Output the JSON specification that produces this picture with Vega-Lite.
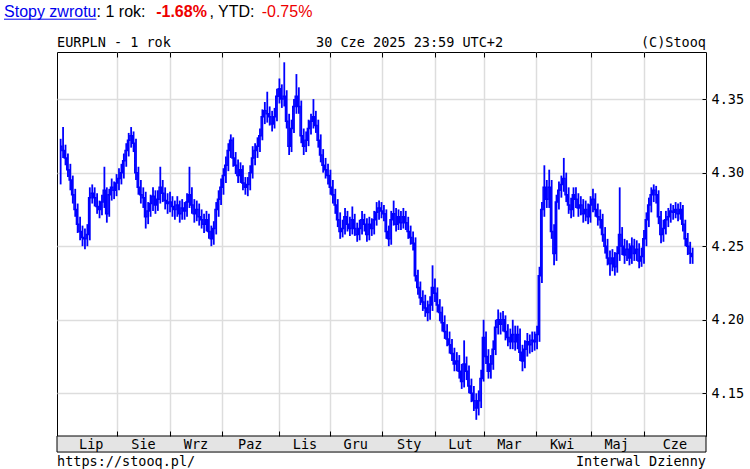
{
  "$schema": "https://vega.github.io/schema/vega-lite/v6.json",
  "width": 649,
  "height": 384,
  "autosize": {"type": "none"},
  "padding": {"left": 57, "top": 52, "right": 44, "bottom": 33},
  "background": "#ffffff",
  "config": {
    "view": {"stroke": "#000000", "strokeWidth": 1},
    "axis": {"labelFont": "DejaVu Sans Mono", "labelFontSize": 13.5, "labelColor": "#000000", "title": null}
  },
  "resolve": {"axis": {"x": "independent", "y": "independent"}},
  "datasets": {
    "eur": [
      {"i":0,"h":4.323,"l":4.292,"c":4.318},{"i":1,"h":4.331,"l":4.31,"c":4.315},{"i":2,"h":4.319,"l":4.305,"c":4.31},{"i":3,"h":4.313,"l":4.297,"c":4.302},{"i":4,"h":4.306,"l":4.288,"c":4.295},
      {"i":5,"h":4.298,"l":4.279,"c":4.285},{"i":6,"h":4.289,"l":4.27,"c":4.275},{"i":7,"h":4.279,"l":4.259,"c":4.265},{"i":8,"h":4.27,"l":4.254,"c":4.26},{"i":9,"h":4.264,"l":4.25,"c":4.256},
      {"i":10,"h":4.262,"l":4.248,"c":4.255},{"i":11,"h":4.265,"l":4.25,"c":4.258},{"i":12,"h":4.29,"l":4.254,"c":4.283},{"i":13,"h":4.292,"l":4.279,"c":4.286},{"i":14,"h":4.29,"l":4.277,"c":4.283},
      {"i":15,"h":4.286,"l":4.272,"c":4.277},{"i":16,"h":4.281,"l":4.269,"c":4.275},{"i":17,"h":4.285,"l":4.271,"c":4.28},{"i":18,"h":4.304,"l":4.276,"c":4.288},{"i":19,"h":4.29,"l":4.266,"c":4.272},
      {"i":20,"h":4.289,"l":4.27,"c":4.285},{"i":21,"h":4.296,"l":4.281,"c":4.29},{"i":22,"h":4.294,"l":4.282,"c":4.288},{"i":23,"h":4.299,"l":4.284,"c":4.293},{"i":24,"h":4.303,"l":4.288,"c":4.296},
      {"i":25,"h":4.306,"l":4.292,"c":4.3},{"i":26,"h":4.313,"l":4.296,"c":4.308},{"i":27,"h":4.32,"l":4.304,"c":4.315},{"i":28,"h":4.327,"l":4.311,"c":4.322},{"i":29,"h":4.331,"l":4.317,"c":4.325},
      {"i":30,"h":4.328,"l":4.314,"c":4.32},{"i":31,"h":4.323,"l":4.295,"c":4.3},{"i":32,"h":4.304,"l":4.285,"c":4.29},{"i":33,"h":4.295,"l":4.279,"c":4.285},{"i":34,"h":4.29,"l":4.276,"c":4.283},
      {"i":35,"h":4.287,"l":4.262,"c":4.27},{"i":36,"h":4.28,"l":4.265,"c":4.274},{"i":37,"h":4.285,"l":4.27,"c":4.279},{"i":38,"h":4.29,"l":4.274,"c":4.284},{"i":39,"h":4.288,"l":4.272,"c":4.278},
      {"i":40,"h":4.288,"l":4.274,"c":4.282},{"i":41,"h":4.304,"l":4.279,"c":4.29},{"i":42,"h":4.295,"l":4.28,"c":4.286},{"i":43,"h":4.29,"l":4.275,"c":4.281},{"i":44,"h":4.286,"l":4.272,"c":4.279},
      {"i":45,"h":4.287,"l":4.273,"c":4.28},{"i":46,"h":4.284,"l":4.27,"c":4.277},{"i":47,"h":4.281,"l":4.268,"c":4.275},{"i":48,"h":4.284,"l":4.27,"c":4.278},{"i":49,"h":4.281,"l":4.266,"c":4.272},
      {"i":50,"h":4.282,"l":4.268,"c":4.276},{"i":51,"h":4.28,"l":4.268,"c":4.274},{"i":52,"h":4.286,"l":4.27,"c":4.28},{"i":53,"h":4.304,"l":4.276,"c":4.285},{"i":54,"h":4.29,"l":4.272,"c":4.278},
      {"i":55,"h":4.282,"l":4.266,"c":4.272},{"i":56,"h":4.281,"l":4.267,"c":4.275},{"i":57,"h":4.279,"l":4.264,"c":4.27},{"i":58,"h":4.275,"l":4.262,"c":4.268},{"i":59,"h":4.272,"l":4.259,"c":4.265},
      {"i":60,"h":4.274,"l":4.26,"c":4.268},{"i":61,"h":4.272,"l":4.255,"c":4.26},{"i":62,"h":4.264,"l":4.25,"c":4.255},{"i":63,"h":4.267,"l":4.251,"c":4.262},{"i":64,"h":4.28,"l":4.258,"c":4.275},
      {"i":65,"h":4.288,"l":4.27,"c":4.282},{"i":66,"h":4.296,"l":4.278,"c":4.29},{"i":67,"h":4.303,"l":4.285,"c":4.298},{"i":68,"h":4.311,"l":4.293,"c":4.305},{"i":69,"h":4.32,"l":4.301,"c":4.315},
      {"i":70,"h":4.326,"l":4.31,"c":4.322},{"i":71,"h":4.324,"l":4.304,"c":4.31},{"i":72,"h":4.314,"l":4.299,"c":4.305},{"i":73,"h":4.309,"l":4.293,"c":4.298},{"i":74,"h":4.307,"l":4.293,"c":4.302},
      {"i":75,"h":4.305,"l":4.288,"c":4.293},{"i":76,"h":4.297,"l":4.285,"c":4.29},{"i":77,"h":4.297,"l":4.284,"c":4.292},{"i":78,"h":4.305,"l":4.288,"c":4.3},{"i":79,"h":4.318,"l":4.296,"c":4.31},
      {"i":80,"h":4.32,"l":4.305,"c":4.315},{"i":81,"h":4.324,"l":4.31,"c":4.318},{"i":82,"h":4.33,"l":4.314,"c":4.325},{"i":83,"h":4.343,"l":4.322,"c":4.338},{"i":84,"h":4.348,"l":4.333,"c":4.342},
      {"i":85,"h":4.355,"l":4.334,"c":4.34},{"i":86,"h":4.345,"l":4.332,"c":4.338},{"i":87,"h":4.342,"l":4.328,"c":4.333},{"i":88,"h":4.344,"l":4.33,"c":4.338},{"i":89,"h":4.357,"l":4.335,"c":4.352},
      {"i":90,"h":4.364,"l":4.347,"c":4.357},{"i":91,"h":4.36,"l":4.344,"c":4.35},{"i":92,"h":4.375,"l":4.345,"c":4.352},{"i":93,"h":4.356,"l":4.33,"c":4.335},{"i":94,"h":4.34,"l":4.312,"c":4.318},
      {"i":95,"h":4.336,"l":4.314,"c":4.33},{"i":96,"h":4.35,"l":4.327,"c":4.345},{"i":97,"h":4.367,"l":4.34,"c":4.352},{"i":98,"h":4.358,"l":4.34,"c":4.345},{"i":99,"h":4.349,"l":4.32,"c":4.325},
      {"i":100,"h":4.33,"l":4.312,"c":4.318},{"i":101,"h":4.328,"l":4.314,"c":4.322},{"i":102,"h":4.336,"l":4.318,"c":4.33},{"i":103,"h":4.34,"l":4.326,"c":4.335},{"i":104,"h":4.35,"l":4.33,"c":4.338},
      {"i":105,"h":4.342,"l":4.327,"c":4.332},{"i":106,"h":4.336,"l":4.317,"c":4.322},{"i":107,"h":4.326,"l":4.307,"c":4.312},{"i":108,"h":4.316,"l":4.3,"c":4.305},{"i":109,"h":4.31,"l":4.296,"c":4.302},
      {"i":110,"h":4.306,"l":4.292,"c":4.298},{"i":111,"h":4.302,"l":4.285,"c":4.29},{"i":112,"h":4.295,"l":4.279,"c":4.285},{"i":113,"h":4.289,"l":4.272,"c":4.278},{"i":114,"h":4.282,"l":4.263,"c":4.268},
      {"i":115,"h":4.273,"l":4.255,"c":4.26},{"i":116,"h":4.268,"l":4.256,"c":4.262},{"i":117,"h":4.276,"l":4.258,"c":4.27},{"i":118,"h":4.274,"l":4.26,"c":4.265},{"i":119,"h":4.27,"l":4.257,"c":4.262},
      {"i":120,"h":4.277,"l":4.258,"c":4.268},{"i":121,"h":4.272,"l":4.257,"c":4.262},{"i":122,"h":4.266,"l":4.253,"c":4.258},{"i":123,"h":4.268,"l":4.254,"c":4.262},{"i":124,"h":4.274,"l":4.258,"c":4.268},
      {"i":125,"h":4.272,"l":4.26,"c":4.265},{"i":126,"h":4.269,"l":4.253,"c":4.258},{"i":127,"h":4.27,"l":4.254,"c":4.265},{"i":128,"h":4.269,"l":4.257,"c":4.262},{"i":129,"h":4.274,"l":4.258,"c":4.268},
      {"i":130,"h":4.28,"l":4.264,"c":4.273},{"i":131,"h":4.281,"l":4.268,"c":4.276},{"i":132,"h":4.28,"l":4.269,"c":4.274},{"i":133,"h":4.278,"l":4.267,"c":4.272},{"i":134,"h":4.275,"l":4.255,"c":4.26},
      {"i":135,"h":4.264,"l":4.25,"c":4.255},{"i":136,"h":4.274,"l":4.251,"c":4.268},{"i":137,"h":4.281,"l":4.264,"c":4.272},{"i":138,"h":4.276,"l":4.26,"c":4.265},{"i":139,"h":4.275,"l":4.261,"c":4.27},
      {"i":140,"h":4.274,"l":4.261,"c":4.266},{"i":141,"h":4.276,"l":4.262,"c":4.27},{"i":142,"h":4.274,"l":4.261,"c":4.266},{"i":143,"h":4.27,"l":4.255,"c":4.26},{"i":144,"h":4.264,"l":4.251,"c":4.256},
      {"i":145,"h":4.26,"l":4.247,"c":4.252},{"i":146,"h":4.256,"l":4.226,"c":4.23},{"i":147,"h":4.234,"l":4.217,"c":4.222},{"i":148,"h":4.226,"l":4.21,"c":4.215},{"i":149,"h":4.22,"l":4.206,"c":4.212},
      {"i":150,"h":4.217,"l":4.202,"c":4.208},{"i":151,"h":4.213,"l":4.199,"c":4.205},{"i":152,"h":4.216,"l":4.2,"c":4.21},{"i":153,"h":4.237,"l":4.206,"c":4.222},{"i":154,"h":4.228,"l":4.212,"c":4.218},
      {"i":155,"h":4.222,"l":4.205,"c":4.21},{"i":156,"h":4.214,"l":4.199,"c":4.205},{"i":157,"h":4.209,"l":4.192,"c":4.198},{"i":158,"h":4.203,"l":4.187,"c":4.192},{"i":159,"h":4.197,"l":4.182,"c":4.187},
      {"i":160,"h":4.192,"l":4.177,"c":4.183},{"i":161,"h":4.187,"l":4.172,"c":4.177},{"i":162,"h":4.181,"l":4.165,"c":4.17},{"i":163,"h":4.178,"l":4.165,"c":4.172},{"i":164,"h":4.176,"l":4.16,"c":4.165},
      {"i":165,"h":4.17,"l":4.153,"c":4.158},{"i":166,"h":4.186,"l":4.154,"c":4.17},{"i":167,"h":4.175,"l":4.159,"c":4.165},{"i":168,"h":4.169,"l":4.15,"c":4.155},{"i":169,"h":4.16,"l":4.144,"c":4.15},
      {"i":170,"h":4.155,"l":4.138,"c":4.145},{"i":171,"h":4.15,"l":4.132,"c":4.14},{"i":172,"h":4.152,"l":4.135,"c":4.145},{"i":173,"h":4.166,"l":4.14,"c":4.16},{"i":174,"h":4.2,"l":4.158,"c":4.188},
      {"i":175,"h":4.192,"l":4.17,"c":4.175},{"i":176,"h":4.18,"l":4.16,"c":4.165},{"i":177,"h":4.176,"l":4.16,"c":4.17},{"i":178,"h":4.186,"l":4.166,"c":4.18},{"i":179,"h":4.2,"l":4.176,"c":4.195},
      {"i":180,"h":4.207,"l":4.19,"c":4.2},{"i":181,"h":4.205,"l":4.19,"c":4.197},{"i":182,"h":4.206,"l":4.192,"c":4.2},{"i":183,"h":4.203,"l":4.186,"c":4.192},{"i":184,"h":4.197,"l":4.182,"c":4.188},
      {"i":185,"h":4.194,"l":4.18,"c":4.185},{"i":186,"h":4.2,"l":4.18,"c":4.19},{"i":187,"h":4.196,"l":4.179,"c":4.185},{"i":188,"h":4.196,"l":4.18,"c":4.19},{"i":189,"h":4.194,"l":4.172,"c":4.178},
      {"i":190,"h":4.183,"l":4.165,"c":4.172},{"i":191,"h":4.186,"l":4.167,"c":4.18},{"i":192,"h":4.191,"l":4.175,"c":4.185},{"i":193,"h":4.19,"l":4.177,"c":4.183},{"i":194,"h":4.192,"l":4.178,"c":4.186},
      {"i":195,"h":4.192,"l":4.179,"c":4.185},{"i":196,"h":4.196,"l":4.18,"c":4.19},{"i":197,"h":4.236,"l":4.185,"c":4.23},{"i":198,"h":4.28,"l":4.225,"c":4.275},{"i":199,"h":4.305,"l":4.27,"c":4.29},
      {"i":200,"h":4.295,"l":4.276,"c":4.282},{"i":201,"h":4.302,"l":4.276,"c":4.29},{"i":202,"h":4.295,"l":4.255,"c":4.26},{"i":203,"h":4.265,"l":4.237,"c":4.245},{"i":204,"h":4.285,"l":4.24,"c":4.28},
      {"i":205,"h":4.294,"l":4.275,"c":4.288},{"i":206,"h":4.298,"l":4.283,"c":4.292},{"i":207,"h":4.31,"l":4.287,"c":4.296},{"i":208,"h":4.3,"l":4.28,"c":4.285},{"i":209,"h":4.29,"l":4.272,"c":4.278},
      {"i":210,"h":4.283,"l":4.269,"c":4.275},{"i":211,"h":4.29,"l":4.27,"c":4.285},{"i":212,"h":4.29,"l":4.276,"c":4.282},{"i":213,"h":4.286,"l":4.27,"c":4.276},{"i":214,"h":4.284,"l":4.271,"c":4.278},
      {"i":215,"h":4.282,"l":4.266,"c":4.272},{"i":216,"h":4.281,"l":4.267,"c":4.275},{"i":217,"h":4.279,"l":4.265,"c":4.27},{"i":218,"h":4.284,"l":4.266,"c":4.278},{"i":219,"h":4.289,"l":4.273,"c":4.282},
      {"i":220,"h":4.286,"l":4.27,"c":4.275},{"i":221,"h":4.279,"l":4.264,"c":4.27},{"i":222,"h":4.275,"l":4.262,"c":4.268},{"i":223,"h":4.272,"l":4.253,"c":4.258},{"i":224,"h":4.263,"l":4.245,"c":4.25},
      {"i":225,"h":4.255,"l":4.237,"c":4.242},{"i":226,"h":4.247,"l":4.23,"c":4.238},{"i":227,"h":4.248,"l":4.233,"c":4.242},{"i":228,"h":4.246,"l":4.23,"c":4.236},{"i":229,"h":4.25,"l":4.232,"c":4.245},
      {"i":230,"h":4.29,"l":4.24,"c":4.258},{"i":231,"h":4.263,"l":4.244,"c":4.25},{"i":232,"h":4.255,"l":4.238,"c":4.244},{"i":233,"h":4.254,"l":4.24,"c":4.248},{"i":234,"h":4.252,"l":4.237,"c":4.242},
      {"i":235,"h":4.256,"l":4.238,"c":4.25},{"i":236,"h":4.255,"l":4.24,"c":4.245},{"i":237,"h":4.254,"l":4.24,"c":4.248},{"i":238,"h":4.252,"l":4.235,"c":4.24},{"i":239,"h":4.249,"l":4.236,"c":4.243},
      {"i":240,"h":4.261,"l":4.238,"c":4.255},{"i":241,"h":4.273,"l":4.25,"c":4.268},{"i":242,"h":4.283,"l":4.263,"c":4.278},{"i":243,"h":4.29,"l":4.273,"c":4.285},{"i":244,"h":4.292,"l":4.28,"c":4.288},
      {"i":245,"h":4.291,"l":4.279,"c":4.285},{"i":246,"h":4.288,"l":4.265,"c":4.27},{"i":247,"h":4.274,"l":4.252,"c":4.258},{"i":248,"h":4.268,"l":4.253,"c":4.262},{"i":249,"h":4.274,"l":4.258,"c":4.268},
      {"i":250,"h":4.276,"l":4.263,"c":4.27},{"i":251,"h":4.279,"l":4.266,"c":4.274},{"i":252,"h":4.278,"l":4.268,"c":4.273},{"i":253,"h":4.28,"l":4.269,"c":4.275},{"i":254,"h":4.279,"l":4.267,"c":4.272},
      {"i":255,"h":4.28,"l":4.268,"c":4.275},{"i":256,"h":4.278,"l":4.26,"c":4.265},{"i":257,"h":4.268,"l":4.25,"c":4.255},{"i":258,"h":4.259,"l":4.244,"c":4.25},{"i":259,"h":4.253,"l":4.238,"c":4.245},
      {"i":260,"h":4.249,"l":4.238,"c":4.243}
    ]
  },
  "layer": [
    {
      "data": {"name": "eur"},
      "mark": {"type": "rule", "color": "#0000ff", "strokeWidth": 1.8},
      "encoding": {
        "x": {"field": "i", "type": "quantitative",
              "scale": {"domain": [-1.5, 265.5], "nice": false, "zero": false},
              "axis": {"orient": "top", "values": [23, 45, 66.2, 89.8, 110.8, 132.1, 154.2, 174, 195.4, 218, 240],
                       "labels": false, "ticks": true, "tickSize": 5, "offset": -5, "tickColor": "#000000", "domain": false,
                       "grid": true, "gridColor": "#dddddd", "gridWidth": 1.5}},
        "y": {"field": "l", "type": "quantitative",
              "scale": {"domain": [4.121, 4.382], "nice": false, "zero": false},
              "axis": {"orient": "right", "values": [4.15, 4.2, 4.25, 4.3, 4.35], "format": ".2f",
                       "domain": false, "ticks": true, "tickSize": 4, "offset": -4, "tickColor": "#000000", "labelPadding": 5,
                       "grid": true, "gridColor": "#dddddd", "gridWidth": 1.5}},
        "y2": {"field": "h"}
      }
    },
    {
      "data": {"name": "eur"},
      "mark": {"type": "line", "color": "#0000ff", "strokeWidth": 1.5, "interpolate": "step"},
      "encoding": {
        "x": {"field": "i", "type": "quantitative",
              "scale": {"domain": [-1.5, 265.5], "nice": false, "zero": false},
              "axis": {"orient": "bottom", "values": [12.4, 33.9, 55.5, 77.8, 100.3, 121.2, 143.2, 164.3, 184.4, 206.1, 228.5, 252.5],
                       "labelExpr": "['Lip','Sie','Wrz','Paz','Lis','Gru','Sty','Lut','Mar','Kwi','Maj','Cze'][indexof([12.4,33.9,55.5,77.8,100.3,121.2,143.2,164.3,184.4,206.1,228.5,252.5], datum.value)]",
                       "labelFlush": false, "labelBaseline": "middle", "labelPadding": 8.5,
                       "ticks": false, "domain": false, "grid": false, "zindex": 2}},
        "y": {"field": "c", "type": "quantitative",
              "scale": {"domain": [4.121, 4.382], "nice": false, "zero": false}, "axis": null}
      }
    },
    {
      "data": {"values": [{}]},
      "mark": {"type": "rect", "fill": "#e4e4e4", "stroke": "#000000", "strokeWidth": 1},
      "encoding": {
        "x": {"datum": -1.5, "type": "quantitative", "scale": {"domain": [-1.5, 265.5], "nice": false, "zero": false},
              "axis": {"orient": "bottom", "values": [23, 45, 66.2, 89.8, 110.8, 132.1, 154.2, 174, 195.4, 218, 240],
                       "labels": false, "ticks": true, "tickSize": 5, "offset": -5, "tickColor": "#000000", "domain": false, "grid": false, "zindex": 1}},
        "x2": {"datum": 265.5},
        "y": {"datum": 4.121, "type": "quantitative", "scale": {"domain": [4.121, 4.382], "nice": false, "zero": false}, "axis": null},
        "y2": {"datum": 4.1101}
      }
    },
    {
      "data": {"values": [{}]},
      "mark": {"type": "text", "text": "Stopy zwrotu", "align": "left", "baseline": "alphabetic", "font": "Liberation Sans", "fontSize": 16, "color": "#0000ee"},
      "encoding": {
        "x": {"datum": -23.3, "type": "quantitative", "scale": {"domain": [-1.5, 265.5], "nice": false, "zero": false}, "axis": null},
        "y": {"datum": 4.4055, "type": "quantitative", "scale": {"domain": [4.121, 4.382], "nice": false, "zero": false}, "axis": null}
      }
    },
    {
      "data": {"values": [{}]},
      "mark": {"type": "rule", "color": "#0000ee", "strokeWidth": 1},
      "encoding": {
        "x": {"datum": -23.3, "type": "quantitative", "scale": {"domain": [-1.5, 265.5], "nice": false, "zero": false}, "axis": null},
        "x2": {"datum": 14.7},
        "y": {"datum": 4.4043, "type": "quantitative", "scale": {"domain": [4.121, 4.382], "nice": false, "zero": false}, "axis": null}
      }
    },
    {
      "data": {"values": [{}]},
      "mark": {"type": "text", "text": ": 1 rok: ", "align": "left", "baseline": "alphabetic", "font": "Liberation Sans", "fontSize": 16, "color": "#000000"},
      "encoding": {
        "x": {"datum": 14.8, "type": "quantitative", "scale": {"domain": [-1.5, 265.5], "nice": false, "zero": false}, "axis": null},
        "y": {"datum": 4.4055, "type": "quantitative", "scale": {"domain": [4.121, 4.382], "nice": false, "zero": false}, "axis": null}
      }
    },
    {
      "data": {"values": [{}]},
      "mark": {"type": "text", "text": "-1.68%", "align": "left", "baseline": "alphabetic", "font": "Liberation Sans", "fontSize": 16, "fontWeight": "bold", "color": "#ee0000"},
      "encoding": {
        "x": {"datum": 39.3, "type": "quantitative", "scale": {"domain": [-1.5, 265.5], "nice": false, "zero": false}, "axis": null},
        "y": {"datum": 4.4055, "type": "quantitative", "scale": {"domain": [4.121, 4.382], "nice": false, "zero": false}, "axis": null}
      }
    },
    {
      "data": {"values": [{}]},
      "mark": {"type": "text", "text": ", YTD: ", "align": "left", "baseline": "alphabetic", "font": "Liberation Sans", "fontSize": 16, "color": "#000000"},
      "encoding": {
        "x": {"datum": 61.2, "type": "quantitative", "scale": {"domain": [-1.5, 265.5], "nice": false, "zero": false}, "axis": null},
        "y": {"datum": 4.4055, "type": "quantitative", "scale": {"domain": [4.121, 4.382], "nice": false, "zero": false}, "axis": null}
      }
    },
    {
      "data": {"values": [{}]},
      "mark": {"type": "text", "text": "-0.75%", "align": "left", "baseline": "alphabetic", "font": "Liberation Sans", "fontSize": 16, "color": "#ee0000"},
      "encoding": {
        "x": {"datum": 82.7, "type": "quantitative", "scale": {"domain": [-1.5, 265.5], "nice": false, "zero": false}, "axis": null},
        "y": {"datum": 4.4055, "type": "quantitative", "scale": {"domain": [4.121, 4.382], "nice": false, "zero": false}, "axis": null}
      }
    },
    {
      "data": {"values": [{}]},
      "mark": {"type": "text", "text": "EURPLN - 1 rok", "align": "left", "baseline": "alphabetic", "font": "DejaVu Sans Mono", "fontSize": 13.5, "color": "#000000"},
      "encoding": {
        "x": {"datum": -1.5, "type": "quantitative", "scale": {"domain": [-1.5, 265.5], "nice": false, "zero": false}, "axis": null},
        "y": {"datum": 4.3856, "type": "quantitative", "scale": {"domain": [4.121, 4.382], "nice": false, "zero": false}, "axis": null}
      }
    },
    {
      "data": {"values": [{}]},
      "mark": {"type": "text", "text": "30 Cze 2025 23:59 UTC+2", "align": "left", "baseline": "alphabetic", "font": "DejaVu Sans Mono", "fontSize": 13.5, "color": "#000000"},
      "encoding": {
        "x": {"datum": 105.1, "type": "quantitative", "scale": {"domain": [-1.5, 265.5], "nice": false, "zero": false}, "axis": null},
        "y": {"datum": 4.3856, "type": "quantitative", "scale": {"domain": [4.121, 4.382], "nice": false, "zero": false}, "axis": null}
      }
    },
    {
      "data": {"values": [{}]},
      "mark": {"type": "text", "text": "(C)Stooq", "align": "right", "baseline": "alphabetic", "font": "DejaVu Sans Mono", "fontSize": 13.5, "color": "#000000"},
      "encoding": {
        "x": {"datum": 265.5, "type": "quantitative", "scale": {"domain": [-1.5, 265.5], "nice": false, "zero": false}, "axis": null},
        "y": {"datum": 4.3856, "type": "quantitative", "scale": {"domain": [4.121, 4.382], "nice": false, "zero": false}, "axis": null}
      }
    },
    {
      "data": {"values": [{}]},
      "mark": {"type": "text", "text": "https://stooq.pl/", "align": "left", "baseline": "alphabetic", "font": "DejaVu Sans Mono", "fontSize": 13.5, "color": "#000000"},
      "encoding": {
        "x": {"datum": -1.5, "type": "quantitative", "scale": {"domain": [-1.5, 265.5], "nice": false, "zero": false}, "axis": null},
        "y": {"datum": 4.1009, "type": "quantitative", "scale": {"domain": [4.121, 4.382], "nice": false, "zero": false}, "axis": null}
      }
    },
    {
      "data": {"values": [{}]},
      "mark": {"type": "text", "text": "Interwal Dzienny", "align": "right", "baseline": "alphabetic", "font": "DejaVu Sans Mono", "fontSize": 13.5, "color": "#000000"},
      "encoding": {
        "x": {"datum": 265.5, "type": "quantitative", "scale": {"domain": [-1.5, 265.5], "nice": false, "zero": false}, "axis": null},
        "y": {"datum": 4.1009, "type": "quantitative", "scale": {"domain": [4.121, 4.382], "nice": false, "zero": false}, "axis": null}
      }
    }
  ]
}
